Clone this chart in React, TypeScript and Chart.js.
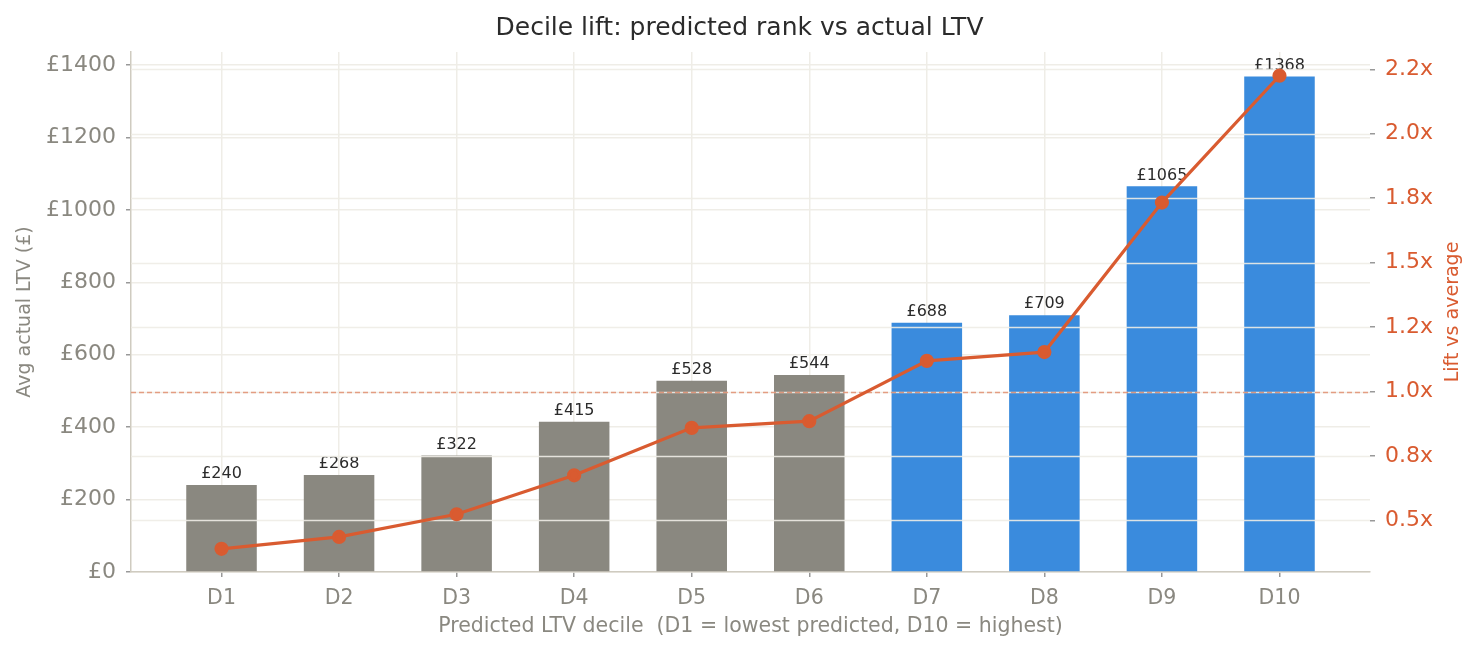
import { useEffect, useRef } from "react";
import { Chart, registerables } from "chart.js";

Chart.register(...registerables);

const deciles = ["D1", "D2", "D3", "D4", "D5", "D6", "D7", "D8", "D9", "D10"];
const avgLtv = [240, 268, 322, 415, 528, 544, 688, 709, 1065, 1368];
const lift = [0.39, 0.436, 0.524, 0.675, 0.859, 0.885, 1.119, 1.153, 1.733, 2.225];
const ltvTicks = [0, 200, 400, 600, 800, 1000, 1200, 1400];
const liftTicks = [0.5, 0.75, 1.0, 1.25, 1.5, 1.75, 2.0, 2.25];
const liftTickLabels = ["0.5x", "0.8x", "1.0x", "1.2x", "1.5x", "1.8x", "2.0x", "2.2x"];
// top 4 deciles are highlighted
const highlightFrom = 6;

const GREY = "#8a8880";
const BLUE = "#3a8bdd";
const ORANGE = "#d95b30";
const TEXT = "#8a8880";
const GRID = "#efede7";
const SPINE = "#cfcbc0";

const overlay = {
  id: "overlay",
  beforeDatasetDraw(chart: Chart, args: { index: number }) {
    if (args.index !== 1) return;
    const { ctx, chartArea, scales } = chart;
    const y1 = scales.y1;
    ctx.save();

    // bar value labels
    ctx.font = '16px "DejaVu Sans"';
    ctx.fillStyle = "#2b2b2b";
    ctx.textAlign = "center";
    ctx.textBaseline = "bottom";
    chart.getDatasetMeta(0).data.forEach((bar: any, i: number) => {
      ctx.fillText("£" + avgLtv[i], bar.x, bar.y - 3);
    });

    // right axis grid sits above the bars
    ctx.strokeStyle = "rgba(238,236,230,0.9)";
    ctx.lineWidth = 1.5;
    liftTicks.forEach((v) => {
      const y = Math.round(y1.getPixelForValue(v)) + 0.5;
      ctx.beginPath();
      ctx.moveTo(chartArea.left, y);
      ctx.lineTo(chartArea.right, y);
      ctx.stroke();
    });

    // 1.0x reference
    const yRef = Math.round(y1.getPixelForValue(1)) + 0.5;
    ctx.strokeStyle = "rgba(217,91,48,0.55)";
    ctx.lineWidth = 1.3;
    ctx.setLineDash([5, 3]);
    ctx.beginPath();
    ctx.moveTo(chartArea.left, yRef);
    ctx.lineTo(chartArea.right, yRef);
    ctx.stroke();

    ctx.restore();
  },
  afterDraw(chart: Chart) {
    // right axis title reads bottom-to-top
    const { ctx, chartArea } = chart;
    ctx.save();
    ctx.translate(1453, (chartArea.top + chartArea.bottom) / 2);
    ctx.rotate(-Math.PI / 2);
    ctx.font = '19px "DejaVu Sans"';
    ctx.fillStyle = ORANGE;
    ctx.textAlign = "center";
    ctx.textBaseline = "middle";
    ctx.fillText("Lift vs average", 0, 0);
    ctx.restore();
  },
};

export default function App() {
  const canvasRef = useRef<HTMLCanvasElement | null>(null);
  const chartRef = useRef<Chart | null>(null);

  useEffect(() => {
    document.body.style.margin = "0";
    if (!canvasRef.current) return;
    Chart.defaults.font.family = '"DejaVu Sans", sans-serif';

    if (chartRef.current) chartRef.current.destroy();

    chartRef.current = new Chart(canvasRef.current, {
      type: "bar",
      data: {
        datasets: [
          {
            type: "bar",
            label: "Avg actual LTV",
            data: avgLtv.map((v, i) => ({ x: i, y: v })),
            backgroundColor: avgLtv.map((_, i) => (i >= highlightFrom ? BLUE : GREY)),
            categoryPercentage: 1,
            barPercentage: 0.6,
            yAxisID: "y",
            order: 1,
          },
          {
            type: "line",
            label: "Lift",
            data: lift.map((v, i) => ({ x: i, y: v })),
            borderColor: ORANGE,
            backgroundColor: ORANGE,
            borderWidth: 3.2,
            pointRadius: 5.5,
            pointHoverRadius: 5.5,
            yAxisID: "y1",
            order: 0,
          } as any,
        ],
      },
      options: {
        animation: false,
        responsive: true,
        maintainAspectRatio: false,
        layout: { padding: 0 },
        plugins: {
          legend: { display: false },
          tooltip: { enabled: false },
          title: {
            display: true,
            text: "Decile lift: predicted rank vs actual LTV",
            color: "#2b2b2b",
            font: { size: 25, weight: "normal" },
            padding: { top: 13, bottom: 9 },
          },
        },
        scales: {
          x: {
            type: "linear",
            min: -0.77,
            max: 9.77,
            offset: false,
            afterBuildTicks: (s: any) => {
              s.ticks = deciles.map((_, i) => ({ value: i }));
            },
            afterFit: (s: any) => {
              s.height = 81;
            },
            ticks: {
              color: TEXT,
              font: { size: 20.5 },
              padding: 9,
              callback: (v: any) => deciles[v] ?? "",
            },
            grid: { color: GRID, lineWidth: 1.5, offset: false, tickLength: 5, tickColor: "#999" },
            border: { color: SPINE, width: 1.5 },
            title: {
              display: true,
              text: "Predicted LTV decile  (D1 = lowest predicted, D10 = highest)",
              color: TEXT,
              font: { size: 20.5 },
              padding: { top: 0, bottom: 14 },
            },
          },
          y: {
            position: "left",
            min: 0,
            max: 1436,
            afterBuildTicks: (s: any) => {
              s.ticks = ltvTicks.map((v) => ({ value: v }));
            },
            afterFit: (s: any) => {
              s.width = 131;
            },
            ticks: {
              color: TEXT,
              font: { size: 22 },
              padding: 10,
              callback: (v: any) => "£" + v,
            },
            grid: { color: GRID, lineWidth: 1.5, tickLength: 5, tickColor: "#999" },
            border: { color: SPINE, width: 1.5 },
            title: {
              display: true,
              text: "Avg actual LTV (£)",
              color: TEXT,
              font: { size: 19 },
              padding: { top: 14, bottom: 0 },
            },
          },
          y1: {
            position: "right",
            min: 0.3,
            max: 2.317,
            afterBuildTicks: (s: any) => {
              s.ticks = liftTicks.map((v) => ({ value: v }));
            },
            afterFit: (s: any) => {
              s.width = 109;
            },
            ticks: {
              color: ORANGE,
              font: { size: 22 },
              padding: 10,
              callback: (v: any) => liftTickLabels[liftTicks.indexOf(v)] ?? "",
            },
            grid: { drawOnChartArea: false, tickLength: 5, tickColor: "#999", lineWidth: 1.5 },
            border: { display: false },
          },
        },
      },
      plugins: [overlay as any],
    });

    return () => {
      if (chartRef.current) {
        chartRef.current.destroy();
        chartRef.current = null;
      }
    };
  }, []);

  return (
    <div style={{ width: 1479, height: 653, background: "#fff" }}>
      <canvas ref={canvasRef}></canvas>
    </div>
  );
}
